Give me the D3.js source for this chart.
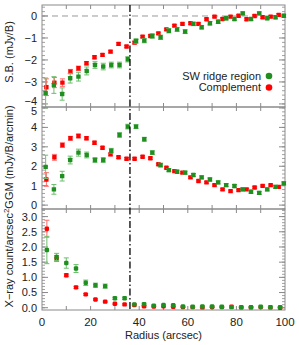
<!DOCTYPE html>
<html><head><meta charset="utf-8">
<script src="https://cdn.jsdelivr.net/npm/d3@7"></script>
<style>
html,body{margin:0;padding:0;background:#fff;}
svg{display:block;font-family:"Liberation Sans",Arial,Helvetica,sans-serif;}
</style></head>
<body><svg id="c" width="299" height="345"></svg>
<script>
// ---- data ----
const radiusRed = [1.8,5.1,8.4,11.7,15.0,18.3,21.6,24.9,28.2,31.5,34.8,38.1,41.4,44.6,47.9,51.2,54.5,57.8,61.1,64.4,67.7,71.0,74.3,77.6,80.9,84.2,87.5,90.8,94.1,97.4];
const radiusGreen = [1.5,4.9,8.3,11.6,15.0,18.4,21.8,25.2,28.5,31.9,35.3,38.7,42.1,45.4,48.8,52.2,55.6,58.9,62.3,65.7,69.1,72.5,75.8,79.2,82.6,86.0,89.4,92.7,96.1,99.5];
const sbRed = [-3.24,-3.03,-3.03,-2.53,-2.38,-2.15,-1.88,-1.77,-1.62,-1.27,-1.39,-1.21,-0.94,-0.91,-0.79,-0.61,-0.44,-0.36,-0.33,-0.36,-0.15,-0.03,-0.14,-0.03,0.01,-0.15,0.0,-0.06,-0.03,0.05];
const sbRedErr = [0.38,0.23,0.17,0.1,0.1,0.08,0.07,0.06,0.06,0.06,0.05,0.06,0.05,0.05,0.05,0.05,0.05,0.05,0.05,0.05,0.05,0.05,0.05,0.05,0.05,0.05,0.05,0.05,0.05,0.05];
const sbGreen = [-3.5,-3.14,-3.55,-2.83,-2.76,-2.5,-2.23,-2.3,-2.23,-2.23,-1.97,-1.14,-1.12,-0.91,-0.97,-0.67,-0.61,-0.71,-0.36,-0.51,-0.33,-0.26,-0.1,-0.14,0.12,-0.14,0.12,-0.1,-0.06,0.01];
const sbGreenErr = [0.68,0.38,0.28,0.22,0.2,0.18,0.15,0.15,0.13,0.13,0.12,0.1,0.1,0.1,0.1,0.1,0.09,0.09,0.08,0.08,0.08,0.08,0.08,0.07,0.07,0.07,0.07,0.07,0.07,0.07];
const ggmRed = [1.32,2.46,3.09,3.44,3.56,3.44,3.21,2.95,2.61,2.46,2.39,2.39,2.49,2.41,2.1,1.92,1.75,1.67,1.43,1.24,1.17,1.03,0.81,0.72,0.77,0.81,0.91,0.99,1.03,0.94];
const ggmRedErr = [0.35,0.15,0.12,0.1,0.1,0.08,0.08,0.07,0.07,0.06,0.06,0.06,0.06,0.06,0.05,0.05,0.05,0.05,0.05,0.05,0.05,0.05,0.05,0.05,0.05,0.05,0.05,0.05,0.05,0.05];
const ggmGreen = [1.97,0.81,1.49,2.32,2.70,2.58,2.32,2.32,2.80,3.61,4.04,4.04,3.39,2.70,2.06,1.80,1.72,1.67,1.55,1.43,1.32,1.17,1.03,0.98,0.81,0.69,0.63,0.81,0.94,1.12];
const ggmGreenErr = [0.6,0.25,0.25,0.2,0.18,0.15,0.12,0.12,0.12,0.12,0.12,0.1,0.1,0.1,0.1,0.08,0.08,0.08,0.08,0.08,0.08,0.08,0.08,0.08,0.08,0.08,0.08,0.08,0.08,0.08];
const radiusX = [2,6,10,14,18,22,26,30,34,38,42,46,50,54,58,62,66,70,74,78,82,86,90,94,98];
const xrayRed = [2.6,1.62,1.07,0.67,0.44,0.27,0.2,0.13,0.11,0.09,0.05,0.04,0.05,0.03,0.02,0.02,0.01,0.02,0.02,0.03,0.01,0.01,0.02,0.01,0.0];
const xrayRedErr = [0.28,0.1,0.05,0.04,0.03,0.02,0.02,0.02,0.02,0.02,0.02,0.01,0.01,0.01,0.01,0.01,0.01,0.01,0.01,0.01,0.01,0.01,0.01,0.01,0.01];
const xrayGreen = [1.9,1.67,1.47,1.29,0.82,0.74,0.71,0.31,0.31,0.11,0.12,0.07,0.09,0.08,0.04,0.03,0.04,0.04,0.03,0.02,0.02,0.02,0.03,0.02,0.02];
const xrayGreenErr = [0.45,0.12,0.17,0.13,0.09,0.07,0.07,0.04,0.04,0.03,0.03,0.02,0.02,0.02,0.02,0.02,0.02,0.02,0.02,0.02,0.02,0.02,0.02,0.02,0.02];
const xTicks = [0,20,40,60,80,100];
const sbTicks = [0,-1,-2,-3,-4];
const ggmTicks = [0,1,2,3,4,5];
const xrayTicks = [0,0.5,1.0,1.5,2.0,2.5,3.0];
const legendLabels = ["SW ridge region","Complement"];
const ridgeRadius = 36.2;

// ---- style ----
const GREEN = "#1f8f1f", RED = "#ff0000";
const GREEN_ERR = "#6cbf6c", RED_ERR = "#ff6a6a";
const FRAME = "#8a8a8a";
const svg = d3.select("#c");
const x = d3.scaleLinear().domain([0,100]).range([42,285]);
const L = 42, R = 285;

const panels = [
  {y: d3.scaleLinear().domain([-4.14,0.5]).range([107,5]), ticks: sbTicks, minor: 0.2, fmt: d=>d<0?"\u2212"+Math.abs(d):String(d),
   title: "S.B. (mJy/B)", ty: 52, nudge: {"-4": -2.5},
   series: [{r: radiusRed, v: sbRed, e: sbRedErr, c: RED, ec: RED_ERR},{r: radiusGreen, v: sbGreen, e: sbGreenErr, c: GREEN, ec: GREEN_ERR}]},
  {y: d3.scaleLinear().domain([-0.2,5.05]).range([209,107]), ticks: ggmTicks, minor: 0.2, fmt: d=>String(d),
   title: "GGM (mJy/B/arcmin)", ty: 157, nudge: {"5": 3},
   series: [{r: radiusRed, v: ggmRed, e: ggmRedErr, c: RED, ec: RED_ERR},{r: radiusGreen, v: ggmGreen, e: ggmGreenErr, c: GREEN, ec: GREEN_ERR}]},
  {y: d3.scaleLinear().domain([-0.075,3.25]).range([310,209]), ticks: xrayTicks, minor: 0.1, fmt: d=>d.toFixed(1),
   title: null, ty: 258, nudge: {},
   series: [{r: radiusX, v: xrayRed, e: xrayRedErr, c: RED, ec: RED_ERR},{r: radiusX, v: xrayGreen, e: xrayGreenErr, c: GREEN, ec: GREEN_ERR}]}
];

panels.forEach((p, pi) => {
  const [y0, y1] = p.y.range(); // bottom, top
  const g = svg.append("g");
  g.append("rect").attr("x", L).attr("y", y1).attr("width", R-L).attr("height", y0-y1)
    .attr("fill","none").attr("stroke",FRAME).attr("stroke-width",1);
  const [d0,d1] = p.y.domain();
  const minorVals = d3.range(Math.ceil(d0/p.minor)*p.minor, d1+1e-9, p.minor);
  g.selectAll(".mn").data(minorVals).join("line")
    .attr("x1",L).attr("x2",L+3).attr("y1",d=>p.y(d)).attr("y2",d=>p.y(d))
    .attr("stroke",FRAME).attr("stroke-width",0.8);
  g.selectAll(".mnr").data(minorVals).join("line")
    .attr("x1",R).attr("x2",R-3).attr("y1",d=>p.y(d)).attr("y2",d=>p.y(d))
    .attr("stroke",FRAME).attr("stroke-width",0.8);
  g.selectAll(".mj").data(p.ticks).join("line")
    .attr("x1",L).attr("x2",L+6).attr("y1",d=>p.y(d)).attr("y2",d=>p.y(d))
    .attr("stroke",FRAME).attr("stroke-width",1);
  g.selectAll(".mjr").data(p.ticks).join("line")
    .attr("x1",R).attr("x2",R-6).attr("y1",d=>p.y(d)).attr("y2",d=>p.y(d))
    .attr("stroke",FRAME).attr("stroke-width",1);
  const xt = d3.range(10,100,10);
  g.selectAll(".xb").data(xt).join("line")
    .attr("x1",d=>x(d)).attr("x2",d=>x(d)).attr("y1",y0).attr("y2",y0-4)
    .attr("stroke",FRAME).attr("stroke-width",1);
  g.selectAll(".xtp").data(xt).join("line")
    .attr("x1",d=>x(d)).attr("x2",d=>x(d)).attr("y1",y1).attr("y2",y1+4)
    .attr("stroke",FRAME).attr("stroke-width",1);
  g.selectAll(".yl").data(p.ticks).join("text")
    .attr("x",37).attr("y",d=>p.y(d) + (p.nudge[String(d)]||0)).attr("dy","0.36em").attr("text-anchor","end")
    .attr("font-size",11).attr("fill","#222").text(p.fmt);
  const tt = g.append("text").attr("transform",`translate(13,${p.ty}) rotate(-90)`)
    .attr("text-anchor","middle").attr("font-size",11).attr("fill","#222");
  if (p.title) tt.text(p.title);
  else { tt.append("tspan").text("X\u2212ray count/arcsec"); tt.append("tspan").attr("dy",-4).attr("font-size",8).text("2"); }

  if (pi === 0) {
    g.append("line").attr("x1",L).attr("x2",R).attr("y1",p.y(0)).attr("y2",p.y(0))
      .attr("stroke","#999").attr("stroke-width",1).attr("stroke-dasharray","6,4");
  }
  p.series.forEach(s => {
    const pts = s.r.map((r,i)=>({r, v:s.v[i], e:s.e[i]}));
    const sg = g.append("g");
    sg.selectAll(".eb").data(pts).join("line")
      .attr("x1",d=>x(d.r)).attr("x2",d=>x(d.r)).attr("y1",d=>p.y(d.v-d.e)).attr("y2",d=>p.y(d.v+d.e))
      .attr("stroke",s.ec).attr("stroke-width",1);
    sg.selectAll(".ct").data(pts).join("line")
      .attr("x1",d=>x(d.r)-2.5).attr("x2",d=>x(d.r)+2.5).attr("y1",d=>p.y(d.v+d.e)).attr("y2",d=>p.y(d.v+d.e))
      .attr("stroke",s.ec).attr("stroke-width",1);
    sg.selectAll(".cb").data(pts).join("line")
      .attr("x1",d=>x(d.r)-2.5).attr("x2",d=>x(d.r)+2.5).attr("y1",d=>p.y(d.v-d.e)).attr("y2",d=>p.y(d.v-d.e))
      .attr("stroke",s.ec).attr("stroke-width",1);
    sg.selectAll(".mk").data(pts).join("rect")
      .attr("x",d=>x(d.r)-2.2).attr("y",d=>p.y(d.v)-2.2).attr("width",4.4).attr("height",4.4)
      .attr("rx", pi===2?1.2:0.4).attr("fill",s.c);
  });
});

svg.selectAll(".xl").data(xTicks).join("text")
  .attr("x",d=>x(d)).attr("y",326).attr("text-anchor","middle")
  .attr("font-size",11.5).attr("fill","#222").text(d=>d);
svg.append("text").attr("x",x(50)).attr("y",339).attr("text-anchor","middle")
  .attr("font-size",11).attr("fill","#222").text("Radius (arcsec)");

svg.append("line").attr("x1",x(ridgeRadius)).attr("x2",x(ridgeRadius)).attr("y1",5).attr("y2",310)
  .attr("stroke","#000").attr("stroke-width",1.3).attr("stroke-dasharray","7,2.5,1.5,2.5");

const legColors = [GREEN, RED];
legendLabels.forEach((t,i)=>{
  const ly = 76 + i*11.5;
  svg.append("text").attr("x",261).attr("y",ly).attr("dy","0.36em").attr("text-anchor","end")
    .attr("font-size",11).attr("fill","#222").text(t);
  svg.append("circle").attr("cx",269).attr("cy",ly).attr("r",3.3).attr("fill",legColors[i]);
});
</script></body></html>
